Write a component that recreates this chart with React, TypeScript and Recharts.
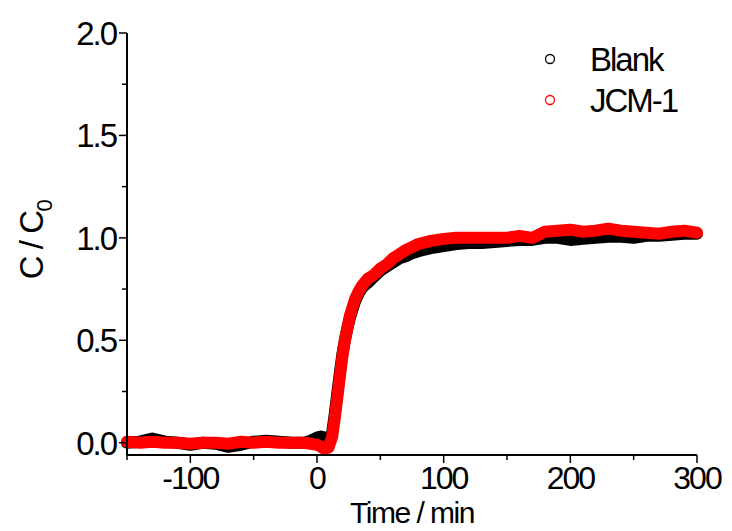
import React from "react";
import { LineChart, Line, XAxis, YAxis } from "recharts";

// time in minutes
const time = [
  -150, -140, -130, -120, -110, -100, -90, -80, -70, -60, -50, -40, -30, -20,
  -10, -5, 0, 3, 6, 9, 12, 14, 16, 18, 20, 22, 24, 26, 28, 30, 33, 36, 40, 45,
  50, 55, 60, 65, 70, 75, 80, 90, 100, 110, 120, 130, 140, 150, 160, 170, 180,
  190, 200, 210, 220, 230, 240, 250, 260, 270, 280, 290, 300,
];

// C / C0, blank run
const blank = [
  0.0, 0.005, 0.02, 0.005, 0.0, -0.01, 0.0, -0.005, -0.02, -0.01, 0.005, 0.01,
  0.005, 0.0, 0.0, 0.01, 0.025, 0.03, 0.025, 0.01, 0.05, 0.14, 0.24, 0.34,
  0.43, 0.5, 0.56, 0.61, 0.65, 0.69, 0.73, 0.76, 0.78, 0.81, 0.84, 0.86, 0.88,
  0.9, 0.91, 0.925, 0.935, 0.95, 0.96, 0.97, 0.975, 0.975, 0.98, 0.985, 0.99,
  0.99, 1.0, 1.0, 0.99, 0.995, 1.0, 1.005, 1.005, 1.0, 1.01, 1.01, 1.015,
  1.02, 1.02,
];

// C / C0, JCM-1 run
const jcm1 = [
  0.005, 0.0, 0.005, 0.0, 0.0, -0.005, 0.0, 0.0, -0.005, 0.005, 0.0, 0.005,
  0.0, 0.0, 0.0, -0.005, -0.01, -0.02, -0.03, -0.025, 0.03, 0.12, 0.22, 0.32,
  0.42, 0.5, 0.56, 0.62, 0.66, 0.7, 0.74, 0.77, 0.8, 0.82, 0.85, 0.87, 0.9,
  0.92, 0.94, 0.955, 0.97, 0.985, 0.995, 1.0, 1.0, 1.0, 1.0, 1.0, 1.01, 1.0,
  1.03, 1.035, 1.04, 1.03, 1.035, 1.045, 1.035, 1.03, 1.025, 1.02, 1.03,
  1.035, 1.025,
];

const xTicks = [-150, -100, -50, 0, 50, 100, 150, 200, 250, 300];
const xMajor = [-100, 0, 100, 200, 300];
const yTicks = [0, 0.25, 0.5, 0.75, 1, 1.25, 1.5, 1.75, 2];
const yMajor = [0, 0.5, 1, 1.5, 2];

const data = time.map((t, i) => ({ t, blank: blank[i], jcm1: jcm1[i] }));

const FONT = "'Liberation Sans', Arial, sans-serif";

const makeTick =
  (side: string, majors: number[], fmt: (v: number) => string) =>
  (props: any) => {
    const { x, y, payload } = props;
    const v = payload.value;
    const major = majors.includes(v);
    const len = major ? 8 : 5;
    let line;
    let label = null;
    if (side === "left") {
      line = <line x1={x} y1={y} x2={x - len} y2={y} stroke="#000" strokeWidth={1.5} />;
      if (major)
        label = (
          <text x={x - 11} y={y + 12} textAnchor="end" fontSize={33} fontFamily={FONT} letterSpacing={-2} fill="#000">
            {fmt(v)}
          </text>
        );
    } else if (side === "right") {
      line = <line x1={x} y1={y} x2={x + len} y2={y} stroke="#000" strokeWidth={1.5} />;
    } else {
      line = <line x1={x} y1={y} x2={x} y2={y + len} stroke="#000" strokeWidth={1.5} />;
      if (major)
        label = (
          <text x={x} y={y + 34} textAnchor="middle" fontSize={32} fontFamily={FONT} letterSpacing={-2} fill="#000">
            {fmt(v)}
          </text>
        );
    }
    return (
      <g>
        {line}
        {label}
      </g>
    );
  };

const YLabel = () => (
  <text
    transform="translate(43, 240) rotate(-90)"
    textAnchor="middle"
    fontSize={33}
    fontFamily={FONT}
    letterSpacing={-1.5}
    fill="#000"
  >
    C / C
    <tspan dy={9} fontSize={22}>
      0
    </tspan>
  </text>
);

const ChartLegend = () => (
  <svg width={200} height={95} style={{ position: "absolute", left: 530, top: 30 }}>
    <circle cx={20} cy={29} r={4.5} fill="none" stroke="#000" strokeWidth={1.3} />
    <text x={60} y={41} fontSize={33} fontFamily={FONT} letterSpacing={-2} fill="#000">
      Blank
    </text>
    <circle cx={20} cy={70} r={4.5} fill="none" stroke="#ff0000" strokeWidth={1.3} />
    <text x={60} y={82} fontSize={33} fontFamily={FONT} letterSpacing={-2} fill="#000">
      JCM-1
    </text>
  </svg>
);

export default function App() {
  return (
    <div style={{ position: "absolute", left: 0, top: 0, width: 732, height: 531, background: "#fff", overflow: "hidden" }}>
      <LineChart
        width={732}
        height={531}
        data={data}
        margin={{ top: 33, right: 35, left: 0, bottom: 0 }}
      >
        <XAxis
          xAxisId="bottom"
          dataKey="t"
          type="number"
          domain={[-150, 300]}
          ticks={xTicks}
          interval={0}
          height={76}
          tickSize={0}
          tickMargin={0}
          tickLine={false}
          axisLine={{ stroke: "#000", strokeWidth: 2 }}
          tick={makeTick("bottom", xMajor, (v) => String(v))}
          label={{
            value: "Time / min",
            position: "insideBottom",
            offset: 8,
            fontSize: 30,
            fontFamily: FONT,
            letterSpacing: -1.5,
            fill: "#000",
          }}
        />
        <XAxis
          xAxisId="top"
          orientation="top"
          dataKey="t"
          type="number"
          domain={[-150, 300]}
          height={0}
          tick={false}
          tickLine={false}
          axisLine={{ stroke: "#000", strokeWidth: 2 }}
        />
        <YAxis
          yAxisId="left"
          type="number"
          domain={[-0.06, 2]}
          ticks={yTicks}
          interval={0}
          width={127}
          tickSize={0}
          tickMargin={0}
          tickLine={false}
          axisLine={{ stroke: "#000", strokeWidth: 2 }}
          tick={makeTick("left", yMajor, (v) => v.toFixed(1))}
          label={<YLabel />}
        />
        <YAxis
          yAxisId="right"
          orientation="right"
          type="number"
          domain={[-0.06, 2]}
          ticks={yTicks}
          interval={0}
          width={0}
          tickSize={0}
          tickMargin={0}
          tickLine={false}
          axisLine={{ stroke: "#000", strokeWidth: 2 }}
          tick={makeTick("right", yMajor, (v) => v.toFixed(1))}
        />
        <Line
          xAxisId="bottom"
          yAxisId="left"
          dataKey="blank"
          name="Blank"
          stroke="#000"
          strokeWidth={12}
          strokeLinejoin="round"
          strokeLinecap="round"
          dot={false}
          isAnimationActive={false}
        />
        <Line
          xAxisId="bottom"
          yAxisId="left"
          dataKey="jcm1"
          name="JCM-1"
          stroke="#ff0000"
          strokeWidth={12}
          strokeLinejoin="round"
          strokeLinecap="round"
          dot={false}
          isAnimationActive={false}
        />
      </LineChart>
      <ChartLegend />
    </div>
  );
}
